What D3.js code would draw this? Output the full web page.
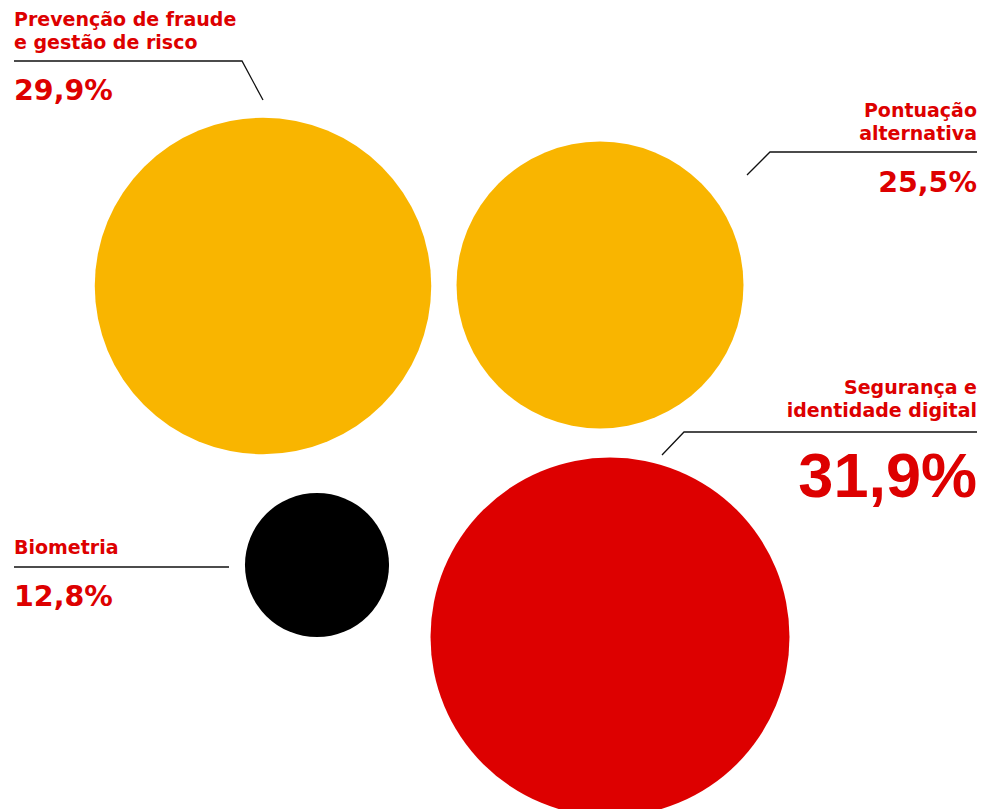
<!DOCTYPE html>
<html>
<head>
<meta charset="utf-8">
<script src="https://cdn.jsdelivr.net/npm/d3@7"></script>
<style>
  html, body { margin: 0; padding: 0; background: #fff; }
  svg { display: block; }
  text { font-family: "DejaVu Sans", sans-serif; font-weight: bold; fill: #dd0000; }
  text.big { font-family: "Liberation Sans", Arial, sans-serif; }
</style>
</head>
<body>
<svg id="chart" width="995" height="809"></svg>
<script>
// Share of investment by area (%)
const categories = [
  "Prevenção de fraude\ne gestão de risco",
  "Pontuação\nalternativa",
  "Biometria",
  "Segurança e\nidentidade digital"
];
const values = [29.9, 25.5, 12.8, 31.9];
const valueLabels = ["29,9%", "25,5%", "12,8%", "31,9%"];

// Layout: bubble centres, label anchors and leader lines
const layout = [
  { cx: 263, cy: 286, fill: "#f9b500", align: "start", lx: 14, ly: [26, 49], vy: 100, vsize: 28.5, big: false,
    line: [[14, 61], [242, 61], [263, 100]] },
  { cx: 600, cy: 285, fill: "#f9b500", align: "end", lx: 977, ly: [117, 140], vy: 192, vsize: 28.5, big: false,
    line: [[977, 152], [770, 152], [747, 175]] },
  { cx: 317, cy: 565, fill: "#000000", align: "start", lx: 14, ly: [554], vy: 606, vsize: 28.5, big: false,
    line: [[14, 567], [229, 567]] },
  { cx: 610, cy: 637, fill: "#dd0000", align: "end", lx: 977, ly: [394, 417], vy: 497, vsize: 63, big: true,
    line: [[977, 432], [684, 432], [662, 455]] }
];

const r = d3.scaleLinear().domain([0, d3.max(values)]).range([0, 179.5]);

const svg = d3.select("#chart");

const items = values.map((v, i) => ({ value: v, name: categories[i], label: valueLabels[i], ...layout[i] }));

svg.selectAll("circle.bubble")
  .data(items)
  .join("circle")
  .attr("class", "bubble")
  .attr("cx", d => d.cx)
  .attr("cy", d => d.cy)
  .attr("r", d => r(d.value))
  .attr("fill", d => d.fill);

const line = d3.line();
svg.selectAll("path.leader")
  .data(items)
  .join("path")
  .attr("class", "leader")
  .attr("d", d => line(d.line))
  .attr("fill", "none")
  .attr("stroke", "#111")
  .attr("stroke-width", 1.3);

const g = svg.selectAll("g.label").data(items).join("g").attr("class", "label");

g.each(function (d) {
  const sel = d3.select(this);
  d.name.split("\n").forEach((t, j) => {
    sel.append("text")
      .attr("x", d.lx)
      .attr("y", d.ly[j])
      .attr("text-anchor", d.align)
      .attr("font-size", 19)
      .text(t);
  });
  sel.append("text")
    .attr("class", d.big ? "big" : null)
    .attr("x", d.lx)
    .attr("y", d.vy)
    .attr("text-anchor", d.align)
    .attr("font-size", d.vsize)
    .text(d.label);
});
</script>
</body>
</html>
